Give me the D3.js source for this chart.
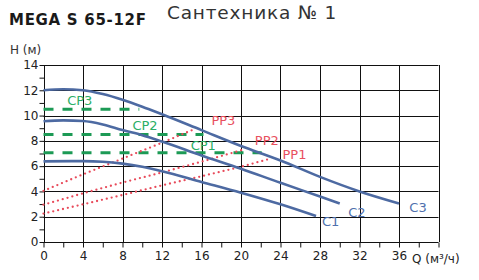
<!DOCTYPE html>
<html>
<head>
<meta charset="utf-8">
<script src="https://cdn.jsdelivr.net/npm/d3@7"></script>
<style>
  body { margin: 0; background: #fff; }
  svg { display: block; font-family: "DejaVu Sans", sans-serif; }
</style>
</head>
<body>
<div id="chart"></div>
<script>
// pump curves C1..C3 (Q m3/h, H m)
const pumpNames = ["C1", "C2", "C3"];
const pumpQ = [
    [0, 4, 6, 8, 10, 12, 16, 20, 24, 27.6],
    [0, 2, 4, 6, 8, 10, 12, 16, 20, 24, 28, 30],
    [0, 2, 4, 6, 8, 10, 12, 16, 20, 24, 28, 32, 36]
];
const pumpH = [
    [6.38, 6.4, 6.35, 6.2, 5.95, 5.6, 4.75, 3.9, 2.98, 2.05],
    [9.55, 9.62, 9.57, 9.3, 8.85, 8.45, 7.95, 6.85, 5.8, 4.68, 3.6, 3.05],
    [12.0, 12.08, 12.0, 11.7, 11.25, 10.7, 10.1, 8.85, 7.6, 6.45, 5.15, 4.0, 3.05]
];

// constant pressure modes
const cpNames = ["CP1", "CP2", "CP3"];
const cpH = [7.05, 8.5, 10.5];
const cpQmax = [22.1, 16.2, 9.7];

// proportional pressure modes
const ppNames = ["PP1", "PP2", "PP3"];
const ppQ = [
    [0, 4, 8, 12, 16, 20, 23],
    [0, 4, 8, 12, 16, 20.2],
    [0, 4, 8, 12, 15.2]
];
const ppH = [
    [2.25, 2.98, 3.72, 4.48, 5.2, 5.95, 6.6],
    [2.95, 3.85, 4.7, 5.5, 6.35, 7.3],
    [4.05, 5.35, 6.6, 7.85, 8.9]
];

const xTicks = d3.range(0, 41, 2);
const xLabels = [0, 4, 8, 12, 16, 20, 24, 28, 32, 36];
const yTicks = d3.range(0, 15, 1);
const yLabels = [0, 2, 4, 6, 8, 10, 12, 14];

class PumpChart {
    constructor() {
        this.width = 479;
        this.height = 280;
        this.x = d3.scaleLinear().domain([0, 40]).range([43.5, 438.5]);
        this.y = d3.scaleLinear().domain([0, 14]).range([242, 65]);
        this.svg = null;
    }

    render() {
        this.svg = d3.select("#chart").append("svg")
            .attr("width", this.width)
            .attr("height", this.height);

        this.renderTitles();
        this.renderGrid();
        this.renderAxes();
        this.renderCP();
        this.renderPP();
        this.renderPump();
        this.renderLabels();
    }

    renderTitles() {
        this.svg.append("text")
            .attr("x", 9).attr("y", 25)
            .attr("font-size", 15).attr("font-weight", "bold")
            .attr("letter-spacing", 0.7)
            .attr("fill", "#1a1a1a")
            .text("MEGA S 65-12F");

        this.svg.append("text")
            .attr("x", 167).attr("y", 19)
            .attr("font-size", 18.5)
            .attr("letter-spacing", 0.8)
            .attr("fill", "#333")
            .text("Сантехника № 1");

        this.svg.append("text")
            .attr("x", 10).attr("y", 54)
            .attr("font-size", 12).attr("fill", "#333")
            .text("H (м)");
    }

    renderGrid() {
        const x = this.x, y = this.y;
        const g = this.svg.append("g").attr("stroke", "#111").attr("stroke-width", 1);

        g.selectAll("line.v")
            .data(d3.range(0, 41, 4))
            .enter().append("line")
            .attr("x1", d => Math.round(x(d)) + 0.5).attr("x2", d => Math.round(x(d)) + 0.5)
            .attr("y1", y(0)).attr("y2", y(14));

        g.selectAll("line.h")
            .data(d3.range(0, 15, 2))
            .enter().append("line")
            .attr("x1", x(0)).attr("x2", x(40))
            .attr("y1", d => Math.round(y(d)) + 0.5).attr("y2", d => Math.round(y(d)) + 0.5);
    }

    renderAxes() {
        const x = this.x, y = this.y;

        const xAxis = d3.axisBottom(x)
            .tickValues(xTicks)
            .tickSize(5)
            .tickFormat(d => xLabels.includes(d) ? d : "");
        const gx = this.svg.append("g")
            .attr("transform", `translate(0,${Math.round(y(0)) + 0.5})`)
            .call(xAxis);
        gx.select(".domain").remove();
        gx.selectAll(".tick line").attr("stroke", "#111");
        gx.selectAll(".tick text")
            .attr("y", 9).attr("dy", "0.71em")
            .attr("font-size", 12).attr("font-family", "DejaVu Sans")
            .attr("fill", "#222");

        const yAxis = d3.axisLeft(y)
            .tickValues(yTicks)
            .tickSize(5)
            .tickFormat(d => yLabels.includes(d) ? d : "");
        const gy = this.svg.append("g")
            .attr("transform", `translate(${Math.round(x(0)) + 0.5},0)`)
            .call(yAxis);
        gy.select(".domain").remove();
        gy.selectAll(".tick line").attr("stroke", "#111");
        gy.selectAll(".tick text")
            .attr("x", -6)
            .attr("font-size", 12).attr("font-family", "DejaVu Sans")
            .attr("fill", "#222");

        this.svg.append("text")
            .attr("x", 412).attr("y", 263)
            .attr("font-size", 12).attr("fill", "#222")
            .text("Q (м³/ч)");
    }

    renderCP() {
        const x = this.x, y = this.y;
        this.svg.append("g").selectAll("line")
            .data(cpH.map((h, i) => ({ h, q: cpQmax[i] })))
            .enter().append("line")
            .attr("x1", x(0)).attr("x2", d => x(d.q))
            .attr("y1", d => y(d.h)).attr("y2", d => y(d.h))
            .attr("stroke", "#1c9a55")
            .attr("stroke-width", 3)
            .attr("stroke-dasharray", "10 9");
    }

    renderPP() {
        const line = d3.line().x(d => this.x(d[0])).y(d => this.y(d[1]));
        this.svg.append("g").selectAll("path")
            .data(ppQ.map((qs, i) => qs.map((q, j) => [q, ppH[i][j]])))
            .enter().append("path")
            .attr("d", line)
            .attr("fill", "none")
            .attr("stroke", "#e84a5a")
            .attr("stroke-width", 2.3)
            .attr("stroke-linecap", "round")
            .attr("stroke-dasharray", "0 5");
    }

    renderPump() {
        const line = d3.line()
            .x(d => this.x(d[0])).y(d => this.y(d[1]))
            .curve(d3.curveMonotoneX);
        this.svg.append("g").selectAll("path")
            .data(pumpQ.map((qs, i) => qs.map((q, j) => [q, pumpH[i][j]])))
            .enter().append("path")
            .attr("d", line)
            .attr("fill", "none")
            .attr("stroke", "#4d6aa2")
            .attr("stroke-width", 2.6);
    }

    renderLabels() {
        const labels = [
            { t: cpNames[2], q: 2.4, h: 10.85, c: "#2aae66" },
            { t: cpNames[1], q: 9.0, h: 8.85, c: "#2aae66" },
            { t: cpNames[0], q: 14.9, h: 7.3, c: "#2aae66" },
            { t: ppNames[2], q: 17.0, h: 9.25, c: "#e8505e" },
            { t: ppNames[1], q: 21.4, h: 7.65, c: "#e8505e" },
            { t: ppNames[0], q: 24.2, h: 6.6, c: "#e8505e" },
            { t: pumpNames[0], q: 28.2, h: 1.25, c: "#4f70ad" },
            { t: pumpNames[1], q: 30.85, h: 2.0, c: "#4f70ad" },
            { t: pumpNames[2], q: 37.05, h: 2.35, c: "#4f70ad" }
        ];
        this.svg.append("g").selectAll("text")
            .data(labels)
            .enter().append("text")
            .attr("x", d => this.x(d.q))
            .attr("y", d => this.y(d.h))
            .attr("font-size", 13)
            .attr("fill", d => d.c)
            .text(d => d.t);
    }
}

document.addEventListener("DOMContentLoaded", () => {
    try {
        new PumpChart().render();
    } catch (error) {
        console.error("Failed to draw chart:", error);
    }
});
</script>
</body>
</html>
